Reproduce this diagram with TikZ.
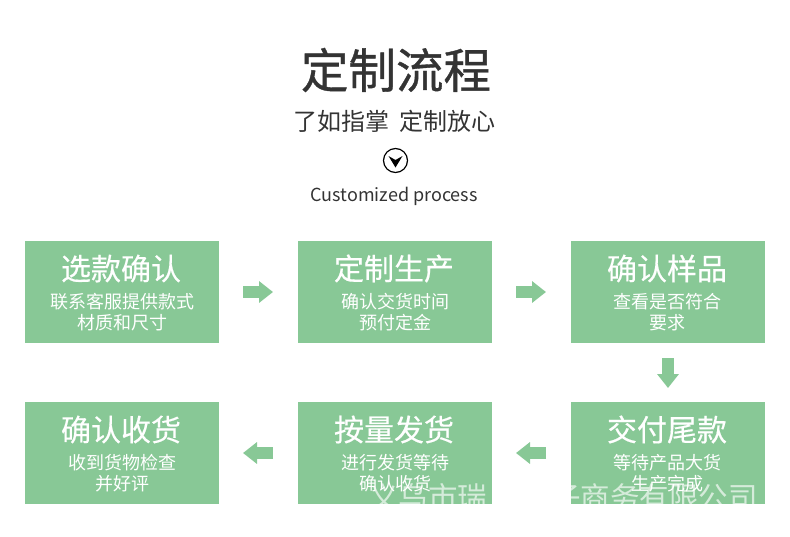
\documentclass[tikz,border=0pt]{standalone}
\usepackage{fontspec}
\setmainfont{Noto Sans CJK SC}
\newfontfamily\medfont[FakeBold=0.8]{Noto Sans CJK SC}
\newfontfamily\lightmed[FakeBold=0.4]{Noto Sans CJK SC}
\usetikzlibrary{arrows.meta}
\definecolor{boxgreen}{HTML}{88C896}
\definecolor{ink}{HTML}{333333}
\tikzset{
  x=1pt,y=-1pt,
  stepbox/.style={fill=boxgreen,minimum width=194pt,minimum height=102pt,inner sep=0pt,outer sep=0pt,anchor=north west},
  headtext/.style={text=white,font=\lightmed\fontsize{30}{30}\selectfont,inner sep=0pt},
  subtext/.style={text=white,font=\fontsize{18}{18}\selectfont,inner sep=0pt},
  blockarrow/.style={draw=boxgreen,line width=12pt,-{Triangle[length=14pt,width=21pt]}},
  mark text/.style={text=white,opacity=0.65,font=\fontsize{29.5}{30}\selectfont,inner sep=0pt}
}
\begin{document}
\begin{tikzpicture}
\useasboundingbox (0,0) rectangle (790,536);
\node[text=ink,font=\medfont\fontsize{47.5}{48}\selectfont,inner sep=0pt] (title) at (396,70) {定制流程};
\node[text=ink,font=\fontsize{24}{25}\selectfont,inner sep=0pt] (subtitle) at (394.5,121) {了如指掌\hspace{10pt}定制放心};
\node[draw=black,line width=1.2pt,circle,minimum size=24pt,inner sep=0pt] (icon) at (395.5,160.5) {};
\fill[black] (388.5,156) -- (395.5,160) -- (402.5,156) -- (395.5,167.5) -- cycle;
\node[text=ink,font=\fontsize{18}{18}\selectfont,inner sep=0pt] (en) at (394,196) {Customized process};

\node[stepbox] (a) at (25,241) {};
\node[stepbox] (b) at (298,241) {};
\node[stepbox] (c) at (571,241) {};
\node[stepbox] (d) at (25,402) {};
\node[stepbox] (e) at (298,402) {};
\node[stepbox] (f) at (571,402) {};

\node[headtext] (a1) at (121,268.5) {选款确认};
\node[subtext] (a2) at (122,301.5) {联系客服提供款式};
\node[subtext] (a3) at (122,322.5) {材质和尺寸};
\node[headtext] (b1) at (394,268.5) {定制生产};
\node[subtext] (b2) at (395,301.5) {确认交货时间};
\node[subtext] (b3) at (395,322.5) {预付定金};
\node[headtext] (c1) at (667,268.5) {确认样品};
\node[subtext] (c2) at (667.5,301.5) {查看是否符合};
\node[subtext] (c3) at (667.5,322.5) {要求};
\node[headtext] (d1) at (121,429.5) {确认收货};
\node[subtext] (d2) at (122,462.5) {收到货物检查};
\node[subtext] (d3) at (122,483.5) {并好评};
\node[headtext] (e1) at (394,429.5) {按量发货};
\node[subtext] (e2) at (395,462.5) {进行发货等待};
\node[subtext] (e3) at (395,483.5) {确认收货};
\node[headtext] (f1) at (667,429.5) {交付尾款};
\node[subtext] (f2) at (667.5,462.5) {等待产品大货};
\node[subtext] (f3) at (667.5,483.5) {生产完成};

\draw[blockarrow,shorten <=24pt,shorten >=25pt] (a.east) -- (b.west);
\draw[blockarrow,shorten <=24pt,shorten >=25pt] (b.east) -- (c.west);
\draw[blockarrow,shorten <=15pt,shorten >=14pt] (c.south) -- (f.north);
\draw[blockarrow,shorten <=25pt,shorten >=24pt] (f.west) -- (e.east);
\draw[blockarrow,shorten <=25pt,shorten >=24pt] (e.west) -- (d.east);

\begin{scope}
\clip (298,402) rectangle (492,504);
\node[mark text,anchor=west] (m1) at (369,497) {义乌市瑞};
\end{scope}
\begin{scope}
\clip (571,402) rectangle (765,504);
\node[mark text,anchor=east] (m2) at (758,497) {子商务有限公司};
\end{scope}
\end{tikzpicture}
\end{document}
